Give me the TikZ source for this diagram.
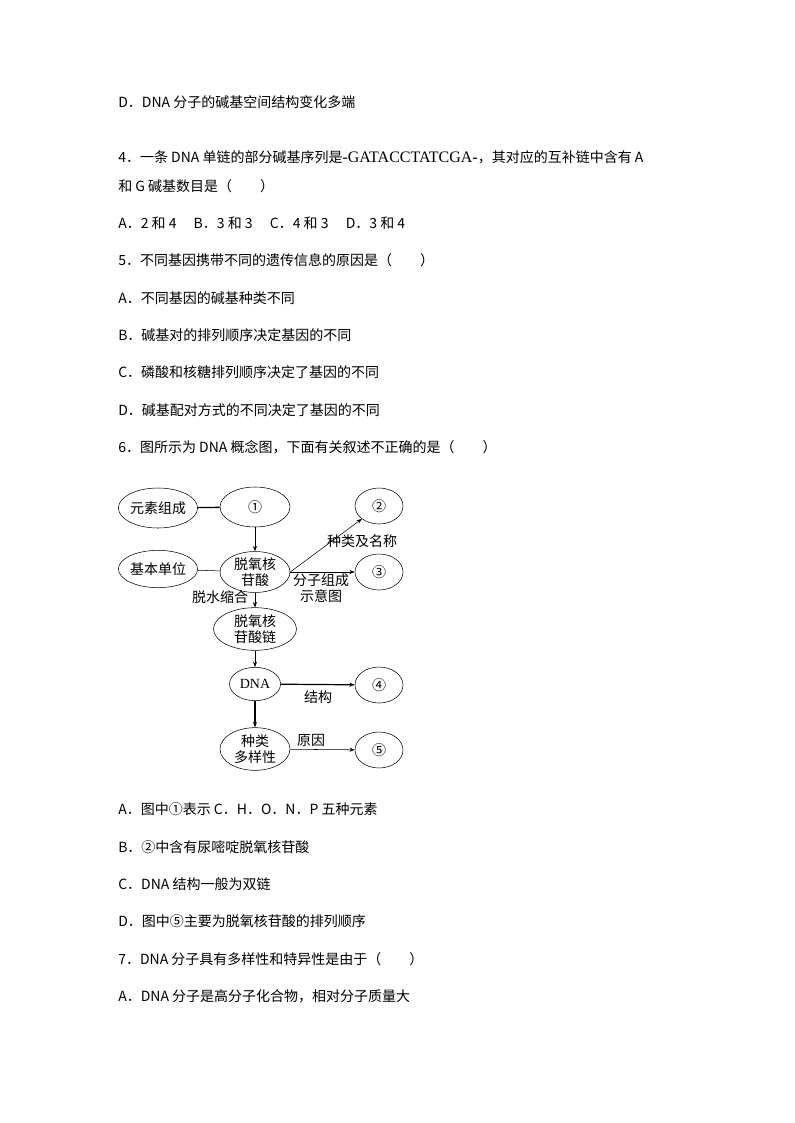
\documentclass[tikz,border=0pt]{standalone}
\usepackage{fontspec}
\setmainfont{Noto Sans CJK SC}
\newfontfamily\lat{Liberation Serif}
\usetikzlibrary{shapes.geometric,arrows.meta}
\begin{document}
\begin{tikzpicture}[x=0.75pt,y=-0.75pt,font=\fontsize{10.5pt}{12pt}\selectfont,
 tl/.style={anchor=west,inner sep=0pt},
 el/.style={draw,ellipse,inner sep=0pt,minimum width=#1*0.75pt},
 e/.style={el=70,minimum height=30pt},
 es/.style={el=48,minimum height=27pt},
 ar/.style={-{Stealth[length=4pt,width=3pt]}},
 lb/.style={inner sep=0pt}]
\useasboundingbox (0,0) rectangle (794,1123);
\node[tl] (t1) at (118,102) {D．DNA 分子的碱基空间结构变化多端};
\node[tl] (t2) at (118,157) {4．一条 DNA 单链的部分碱基序列是{\lat\fontsize{12pt}{14pt}\selectfont -GATACCTATCGA-}，其对应的互补链中含有 A};
\node[tl] (t3) at (118,186) {和 G 碱基数目是（　　）};
\node[tl] (t4) at (118,223) {A．2 和 4　 B．3 和 3　 C．4 和 3　 D．3 和 4};
\node[tl] (t5) at (118,260) {5．不同基因携带不同的遗传信息的原因是（　　）};
\node[tl] (t6) at (118,298) {A．不同基因的碱基种类不同};
\node[tl] (t7) at (118,335) {B．碱基对的排列顺序决定基因的不同};
\node[tl] (t8) at (118,372) {C．磷酸和核糖排列顺序决定了基因的不同};
\node[tl] (t9) at (118,410) {D．碱基配对方式的不同决定了基因的不同};
\node[tl] (t10) at (118,447) {6．图所示为 DNA 概念图，下面有关叙述不正确的是（　　）};
\node[tl] (t11) at (118,809) {A．图中①表示 C．H．O．N．P 五种元素};
\node[tl] (t12) at (118,847) {B．②中含有尿嘧啶脱氧核苷酸};
\node[tl] (t13) at (118,884) {C．DNA 结构一般为双链};
\node[tl] (t14) at (118,921) {D．图中⑤主要为脱氧核苷酸的排列顺序};
\node[tl] (t15) at (118,959) {7．DNA 分子具有多样性和特异性是由于（　　）};
\node[tl] (t16) at (118,996) {A．DNA 分子是高分子化合物，相对分子质量大};
% diagram
\node[el=67,minimum height=30pt] (ys) at (158,508) {元素组成};
\node[e] (n1) at (255,507) {①};
\node[es] (n2) at (379,506) {②};
\node[el=67,minimum height=28pt] (jb) at (158,569) {基本单位};
\node[e,align=center,font=\fontsize{10.5pt}{12pt}\selectfont] (hg) at (255,572) {脱氧核\\苷酸};
\node[es] (n3) at (379,572) {③};
\node[el=83,minimum height=32pt,align=center] (hl) at (255,629) {脱氧核\\苷酸链};
\node[el=51,minimum height=25pt] (dna) at (255,684) {\lat DNA};
\node[es] (n4) at (379,685) {④};
\node[e,minimum height=32pt,align=center] (dy) at (255,749) {种类\\多样性};
\node[es] (n5) at (379,750) {⑤};
\draw[line width=1pt] (ys) -- (n1);
\draw (jb) -- (hg);
\draw[ar] (n1) -- (hg);
\draw[ar] (hg.east) -- (n2.south west);
\draw[ar] (hg.east) -- (n3.west);
\draw[ar] (hg) -- (hl);
\draw[ar] (hl) -- (dna);
\draw[ar,line width=0.9pt] (dna) -- (n4);
\draw[ar,line width=0.9pt] (dna) -- (dy);
\draw[ar] (dy) -- (n5);
\node[lb] (l1) at (362,541) {种类及名称};
\node[lb,align=center] (l2) at (321,588) {分子组成\\示意图};
\node[lb] (l3) at (220,597) {脱水缩合};
\node[lb] (l4) at (318,697) {结构};
\node[lb] (l5) at (311,740) {原因};
\end{tikzpicture}
\end{document}
